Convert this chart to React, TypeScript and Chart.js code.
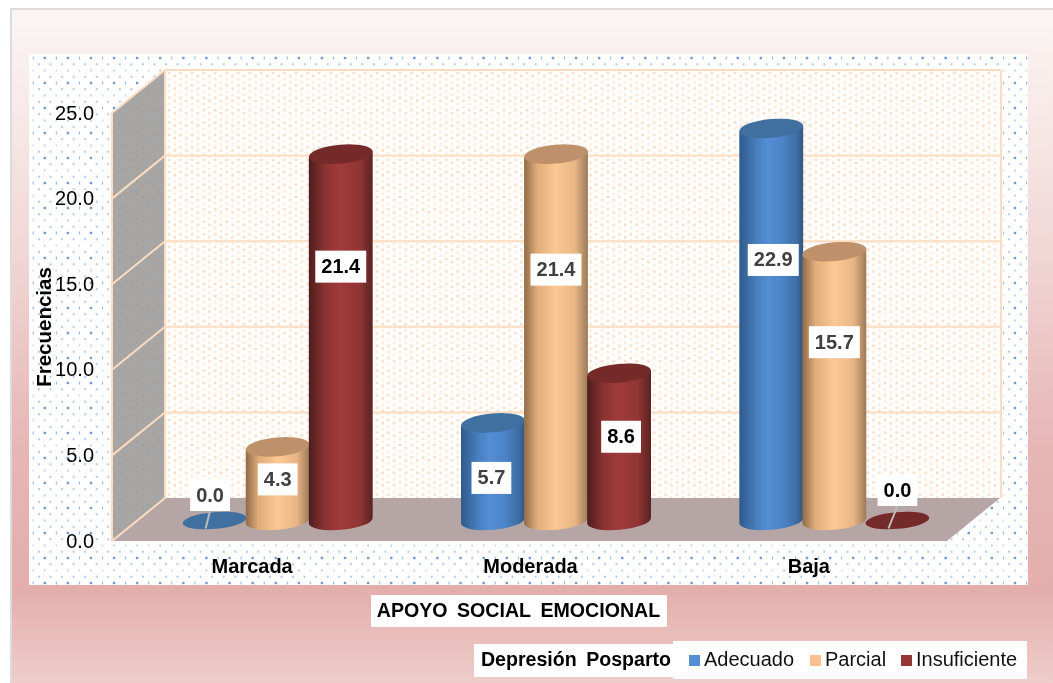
import React, { useEffect, useRef } from "react";
import { Chart, registerables } from "chart.js";

Chart.register(...registerables);

const categories = ["Marcada", "Moderada", "Baja"];
const seriesNames = ["Adecuado", "Parcial", "Insuficiente"];
const adecuado = [0.0, 5.7, 22.9];
const parcial = [4.3, 21.4, 15.7];
const insuficiente = [21.4, 8.6, 0.0];
const yTicksMax = 25;
const yTickStep = 5;

const FONT = '"Liberation Sans", Arial, sans-serif';
const DEPTH_X = 53;
const DEPTH_Y = 43;
const MID_X = 26.5;
const MID_Y = 20.5;
const TILT = -0.09;
const RY = 9.4;

const seriesColors = ["#558ed5", "#fac090", "#953735"];
const topColors = ["#40709f", "#bf916a", "#752a2a"];
const bodyStops = [
  [[0, "#2f5a8a"], [0.28, "#4a80c0"], [0.45, "#558ed5"], [0.7, "#4a82c5"], [0.9, "#3e6da3"], [1, "#33557f"]],
  [[0, "#8f6a47"], [0.2, "#dfac7a"], [0.5, "#fcc995"], [0.8, "#e8b484"], [1, "#9a7a58"]],
  [[0, "#4d1d1d"], [0.25, "#8a3332"], [0.5, "#a03b39"], [0.8, "#8f3534"], [1, "#5a2222"]],
];
const labelColors = ["#404040", "#404040", "#000000"];
// label placement: px below the top of the bar, and px sideways from its centre
const labelDrop = [[-25.5, 55, 131.5], [32.5, 115.5, 90.5], [112.5, 63.5, -30.5]];
const labelSide = [[-4.5, -1.5, 2], [0, 0, 0], [0, 2, 0]];

function dots(ctx: CanvasRenderingContext2D, x0: number, y0: number, x1: number, y1: number, dx: number, dy: number, paint: (x: number, y: number, r: number, k: number) => void) {
  let r = 0;
  for (let y = y0; y < y1; y += dy, r++) {
    let k = 0;
    for (let x = x0 + (r % 2 ? dx / 2 : 0); x < x1; x += dx, k++) paint(x, y, r, k);
  }
}

function clipPoly(ctx: CanvasRenderingContext2D, pts: number[][]) {
  ctx.beginPath();
  pts.forEach((p, i) => (i ? ctx.lineTo(p[0], p[1]) : ctx.moveTo(p[0], p[1])));
  ctx.closePath();
}

const scenePlugin = {
  id: "scene",
  beforeDraw(chart: any) {
    const { ctx, chartArea: a, scales } = chart;
    const W = chart.width, H = chart.height;
    const y = scales.y;
    ctx.save();
    // card
    const g = ctx.createLinearGradient(0, 10, 0, H);
    g.addColorStop(0, "#fbf6f4");
    g.addColorStop(0.08, "#f9efed");
    g.addColorStop(0.35, "#f1d8d7");
    g.addColorStop(0.65, "#e6b6b5");
    g.addColorStop(0.86, "#e3aeac");
    g.addColorStop(1, "#eecdca");
    ctx.fillStyle = "#dcdcdc";
    ctx.fillRect(10, 8, W - 10, H - 8);
    ctx.fillStyle = g;
    ctx.fillRect(12, 10, W - 12, H - 10);
    // dotted panel
    const P = { l: 29, t: 54, r: 1028, b: 585 };
    ctx.fillStyle = "#ffffff";
    ctx.fillRect(P.l, P.t, P.r - P.l, P.b - P.t);
    dots(ctx, 33.2, 58, P.r - 1, P.b, 11.55, 6.25, (px, py, r, k) => {
      if (r % 2) {
        ctx.fillStyle = "#b4cae6";
        ctx.fillRect(px - 1, py - 1, 2, 2);
      } else if (r % 4 === 0) {
        ctx.fillStyle = k % 2 ? "#6f9bd0" : "#92b1da";
        if (k % 2) ctx.fillRect(px - 1.2, py - 1.2, 2.4, 2.4);
        else ctx.fillRect(px - 0.5, py - 1.5, 1, 3);
      } else {
        ctx.fillStyle = k % 2 ? "#b4cae6" : "#cddbec";
        ctx.fillRect(px - 0.8, py - 1, 1.6, 2);
      }
    });
    const yTop = y.getPixelForValue(yTicksMax);
    const y0 = y.getPixelForValue(0);
    const L = a.left, R = a.right;
    // back wall
    const bl = L + DEPTH_X, br = R + DEPTH_X;
    ctx.fillStyle = "#fffdfb";
    ctx.fillRect(bl, yTop - DEPTH_Y, br - bl, y0 - yTop);
    ctx.save();
    ctx.beginPath();
    ctx.rect(bl, yTop - DEPTH_Y, br - bl, y0 - yTop);
    ctx.clip();
    dots(ctx, bl + 4, yTop - DEPTH_Y + 3, br, y0 - DEPTH_Y, 11.55, 3.1, (px, py, r) => {
      ctx.fillStyle = r % 4 < 2 ? "#fcdcc2" : "#fdecdd";
      ctx.fillRect(px - 1.2, py - 1.2, 2.4, 2.4);
    });
    ctx.restore();
    // left wall
    ctx.save();
    clipPoly(ctx, [[L, yTop], [bl, yTop - DEPTH_Y], [bl, y0 - DEPTH_Y], [L, y0]]);
    ctx.fillStyle = "#a6a6a6";
    ctx.fill();
    ctx.clip();
    dots(ctx, L + 2, yTop - DEPTH_Y, bl, y0, 11.55, 3.1, (px, py, r) => {
      ctx.fillStyle = r % 4 < 2 ? "#b09c8c" : "#ada39b";
      ctx.fillRect(px - 1, py - 1, 2, 2);
    });
    ctx.restore();
    // floor
    clipPoly(ctx, [[L, y0], [bl, y0 - DEPTH_Y], [br, y0 - DEPTH_Y], [R, y0]]);
    ctx.fillStyle = "#b5a5a5";
    ctx.fill();
    // grid lines from the y scale
    ctx.strokeStyle = "#fddcc0";
    ctx.lineWidth = 2;
    y.ticks.forEach((t: any, i: number) => {
      const p = y.getPixelForValue(t.value);
      ctx.beginPath();
      ctx.moveTo(L, p);
      ctx.lineTo(bl, p - DEPTH_Y);
      if (i > 0) ctx.lineTo(br, p - DEPTH_Y);
      ctx.stroke();
    });
    ctx.beginPath();
    ctx.moveTo(L, y0 + 1);
    ctx.lineTo(L, yTop);
    ctx.moveTo(bl, yTop - DEPTH_Y);
    ctx.lineTo(bl, y0 - DEPTH_Y);
    ctx.moveTo(br + 1, yTop - DEPTH_Y);
    ctx.lineTo(br + 1, y0 - DEPTH_Y);
    ctx.stroke();
    ctx.strokeStyle = "#f7f3f3";
    ctx.lineWidth = 1;
    ctx.beginPath();
    ctx.moveTo(L, y0 + 1);
    ctx.lineTo(R, y0 + 1);
    ctx.stroke();
    ctx.restore();
  },
  beforeDatasetsDraw(chart: any) {
    const { ctx } = chart;
    chart.data.datasets.forEach((_: any, d: number) => {
      const meta = chart.getDatasetMeta(d);
      meta.data.forEach((el: any) => {
        const cx = el.x + MID_X;
        const top = el.y - MID_Y;
        const base = el.base - MID_Y;
        const rx = el.width / 2 + 0.5;
        const ex = rx * Math.cos(TILT), ey = rx * Math.sin(TILT);
        ctx.save();
        if (base - top > 0.5) {
          const g = ctx.createLinearGradient(cx - rx, 0, cx + rx, 0);
          bodyStops[d].forEach((s: any) => g.addColorStop(s[0], s[1]));
          ctx.beginPath();
          ctx.moveTo(cx + ex, top + ey);
          ctx.lineTo(cx + ex, base + ey);
          ctx.ellipse(cx, base, rx, RY, TILT, 0, Math.PI);
          ctx.lineTo(cx - ex, top - ey);
          ctx.closePath();
          ctx.fillStyle = g;
          ctx.fill();
        }
        ctx.beginPath();
        ctx.ellipse(cx, top, rx, base - top > 0.5 ? RY : 8.4, TILT, 0, Math.PI * 2);
        ctx.fillStyle = topColors[d];
        ctx.fill();
        ctx.restore();
      });
    });
    return false;
  },
  afterDraw(chart: any) {
    const { ctx } = chart;
    ctx.save();
    ctx.textBaseline = "middle";
    ctx.textAlign = "center";
    // value labels
    chart.data.datasets.forEach((ds: any, d: number) => {
      chart.getDatasetMeta(d).data.forEach((el: any, i: number) => {
        const cx = el.x + MID_X + labelSide[d][i];
        const cy = el.y - MID_Y + labelDrop[d][i];
        const text = Number(ds.data[i]).toFixed(1);
        ctx.font = `bold 20px ${FONT}`;
        const w = ctx.measureText(text).width + 12;
        const h = 32;
        if (ds.data[i] === 0) {
          ctx.strokeStyle = "#bdbdbd";
          ctx.lineWidth = 2;
          ctx.beginPath();
          ctx.moveTo(cx, cy + h / 2);
          ctx.lineTo(el.x + MID_X - 9, el.y - MID_Y + 8);
          ctx.stroke();
        }
        ctx.fillStyle = "#ffffff";
        ctx.fillRect(cx - w / 2, cy - h / 2, w, h);
        ctx.fillStyle = labelColors[d];
        ctx.fillText(text, cx, cy + 1);
      });
    });
    // x axis title
    ctx.fillStyle = "#ffffff";
    ctx.fillRect(371, 595, 296, 32);
    ctx.fillStyle = "#000000";
    ctx.font = `bold 19.6px ${FONT}`;
    (ctx as any).wordSpacing = "4px";
    ctx.fillText("APOYO SOCIAL EMOCIONAL", 518.5, 612);
    // legend
    ctx.fillStyle = "#ffffff";
    ctx.fillRect(474, 644, 199, 33);
    ctx.fillRect(673, 641, 354, 38);
    ctx.fillStyle = "#000000";
    ctx.fillText("Depresión Posparto", 576, 661);
    (ctx as any).wordSpacing = "0px";
    ctx.textAlign = "left";
    ctx.font = `20px ${FONT}`;
    const boxX = [689, 810, 901];
    seriesNames.forEach((n, i) => {
      ctx.fillStyle = seriesColors[i];
      ctx.fillRect(boxX[i], 655, 11, 11);
      ctx.fillStyle = "#111111";
      ctx.fillText(n, boxX[i] + 15, 660);
    });
    ctx.restore();
  },
};

export default function App() {
  const ref = useRef<HTMLCanvasElement>(null);
  useEffect(() => {
    const chart = new Chart(ref.current as HTMLCanvasElement, {
      type: "bar",
      data: {
        labels: categories,
        datasets: [
          { label: seriesNames[0], data: adecuado, backgroundColor: seriesColors[0] },
          { label: seriesNames[1], data: parcial, backgroundColor: seriesColors[1] },
          { label: seriesNames[2], data: insuficiente, backgroundColor: seriesColors[2] },
        ],
      },
      options: {
        responsive: false,
        animation: false,
        devicePixelRatio: 1,
        layout: { padding: { left: 29, top: 113, right: 106, bottom: 0 } },
        datasets: { bar: { categoryPercentage: 0.68, barPercentage: 1 } },
        plugins: { legend: { display: false }, title: { display: false }, tooltip: { enabled: false } },
        scales: {
          x: {
            grid: { display: false, drawTicks: false },
            border: { display: false },
            ticks: { color: "#000000", padding: 14, labelOffset: 1, maxRotation: 0, font: { family: FONT, size: 20, weight: "bold" } },
            afterFit(s: any) { s.height = 142; },
          },
          y: {
            min: 0,
            max: yTicksMax,
            grid: { display: false, drawTicks: false },
            border: { display: false },
            ticks: {
              stepSize: yTickStep,
              color: "#000000",
              padding: 18,
              labelOffset: 1,
              font: { family: FONT, size: 20 },
              callback: (v: any) => Number(v).toFixed(1),
            },
            title: {
              display: true,
              text: "Frecuencias",
              color: "#000000",
              font: { family: FONT, size: 20.5, weight: "bold" },
              padding: { top: 4, bottom: 0 },
            },
            afterFit(s: any) { s.width = 83; },
          },
        },
      },
      plugins: [scenePlugin],
    } as any);
    return () => chart.destroy();
  }, []);
  return (
    <canvas
      ref={ref}
      width={1053}
      height={683}
      style={{ position: "absolute", left: 0, top: 0, display: "block" }}
    />
  );
}
